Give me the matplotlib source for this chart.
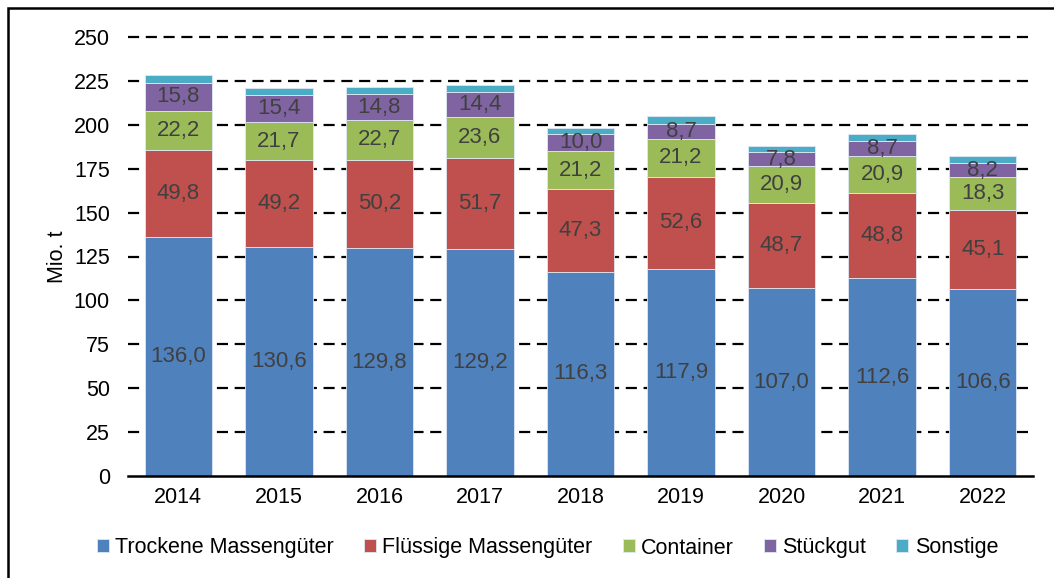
import numpy as np
import matplotlib
matplotlib.use("Agg")
import matplotlib.pyplot as plt
from matplotlib.patches import Rectangle

plt.rcParams["font.family"] = ["Liberation Sans", "DejaVu Sans"]

years = ["2014", "2015", "2016", "2017", "2018", "2019", "2020", "2021", "2022"]
trocken = [136.0, 130.6, 129.8, 129.2, 116.3, 117.9, 107.0, 112.6, 106.6]
fluessig = [49.8, 49.2, 50.2, 51.7, 47.3, 52.6, 48.7, 48.8, 45.1]
container = [22.2, 21.7, 22.7, 23.6, 21.2, 21.2, 20.9, 20.9, 18.3]
stueckgut = [15.8, 15.4, 14.8, 14.4, 10.0, 8.7, 7.8, 8.7, 8.2]
sonstige = [4.6, 4.2, 3.8, 3.8, 3.2, 4.6, 3.7, 3.9, 4.2]

series = [
    ("Trockene Massengüter", trocken, "#4F81BD", True),
    ("Flüssige Massengüter", fluessig, "#C0504D", True),
    ("Container", container, "#9BBB59", True),
    ("Stückgut", stueckgut, "#8064A2", True),
    ("Sonstige", sonstige, "#4BACC6", False),
]

fig = plt.figure(figsize=(10.54, 5.78), dpi=100)
ax = fig.add_axes([128 / 1054, 1 - 476 / 578, (1033 - 128) / 1054, (476 - 37) / 578])

x = np.arange(len(years))
bottom = np.zeros(len(years))
for name, vals, col, lab in series:
    vals = np.array(vals)
    ax.bar(x, vals, 0.67, bottom=bottom, color=col, edgecolor="#dfe8f3",
           linewidth=0.6, label=name, zorder=3)
    if lab:
        for xi, b, v in zip(x, bottom, vals):
            ax.text(xi, b + v / 2, f"{v:.1f}".replace(".", ","), ha="center", va="center",
                    fontsize=16, color="#404040", zorder=4)
    bottom += vals

ax.set_xlim(-0.5, len(years) - 0.5)
ax.set_ylim(0, 250)
ax.set_yticks(np.arange(0, 251, 25))
ax.set_xticks(x)
ax.set_xticklabels(years)
ax.tick_params(axis="both", length=0, labelsize=15.5, colors="black")
ax.tick_params(axis="y", pad=13)
ax.tick_params(axis="x", pad=8)
for yv in np.arange(25, 251, 25):
    ax.axhline(yv, color="black", lw=1.6, ls=(0, (5, 3)), zorder=1, clip_on=False)
for s in ["top", "right", "left"]:
    ax.spines[s].set_visible(False)
ax.spines["bottom"].set_linewidth(1.8)
ax.spines["bottom"].set_zorder(5)
ax.set_ylabel("Mio. t", fontsize=15.5, labelpad=4)

fig.legend(loc="center", bbox_to_anchor=(0.5195, 1 - 548 / 578), ncol=5, frameon=False,
           fontsize=15.5, handlelength=0.55, handleheight=0.55, handletextpad=0.3,
           columnspacing=1.4)

fig.patches.append(Rectangle((8 / 1054, -0.1), 1.2, 1 - 8 / 578 + 0.1, transform=fig.transFigure,
                             fill=False, edgecolor="black", lw=1.8))

fig.savefig("out.png", dpi=100)
